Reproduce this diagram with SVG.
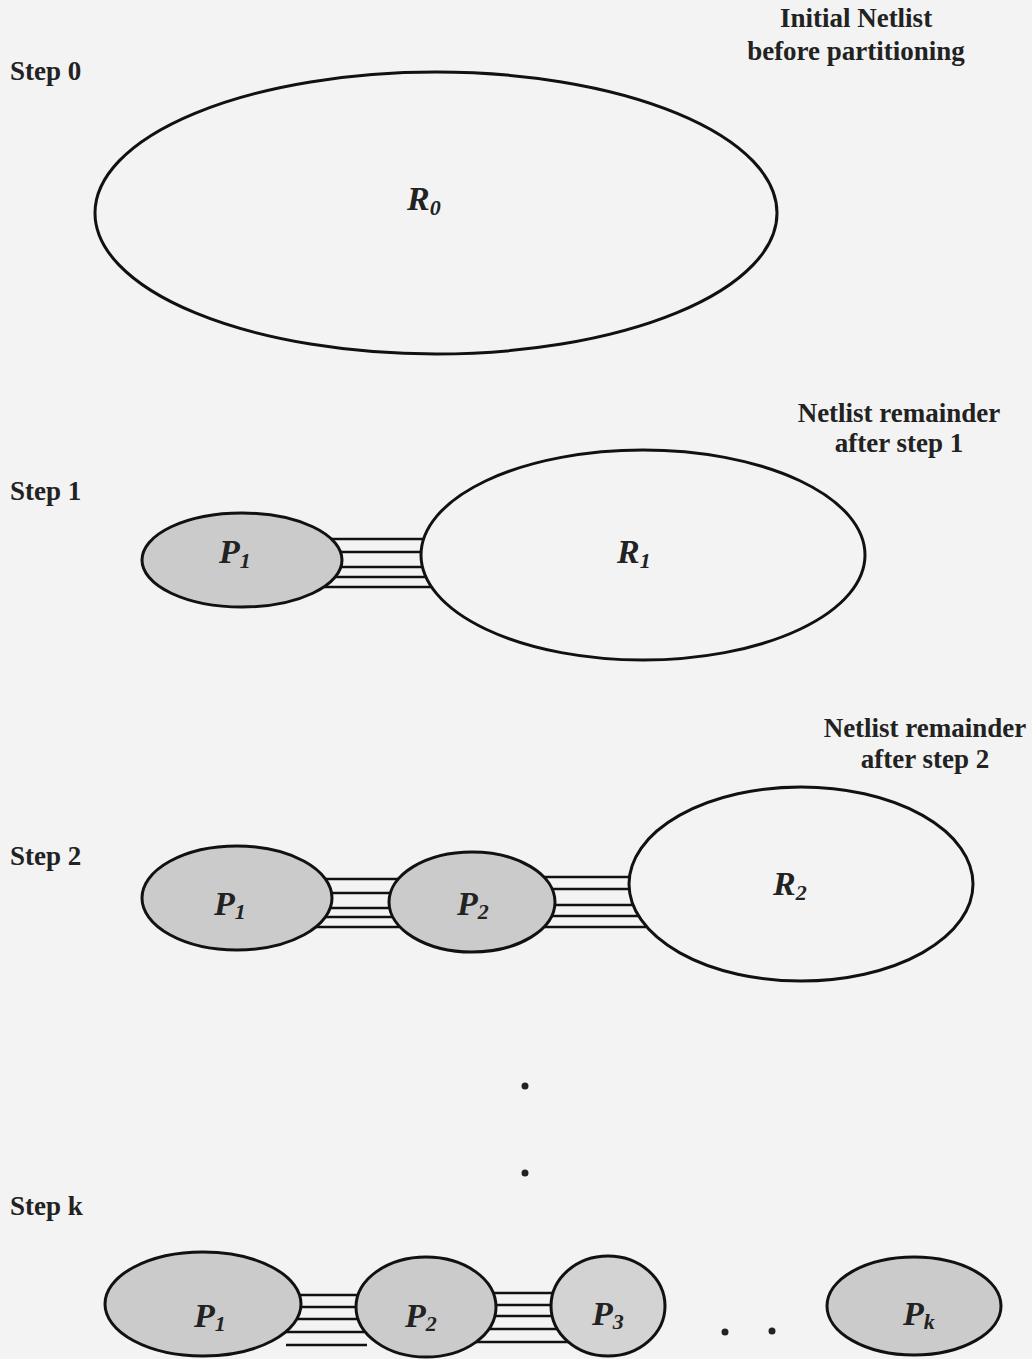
<svg xmlns="http://www.w3.org/2000/svg" width="1032" height="1359" viewBox="0 0 1032 1359">
  <style>
    .bg { fill: #f3f3f3; }
    .part { fill: #cbcbcb; stroke: #111; stroke-width: 3; }
    .rest { fill: #f3f3f3; stroke: #111; stroke-width: 3; }
    .wire { stroke: #111; stroke-width: 2.5; fill: none; }
    .cap { font-family: "Liberation Serif", "Times New Roman", serif; font-weight: bold; font-size: 27px; fill: #222; }
    .name { font-family: "Liberation Serif", "Times New Roman", serif; font-weight: bold; font-style: italic; font-size: 34px; fill: #222; }
    .sub { font-size: 22px; }
    .dot { fill: #222; }
  </style>

  <rect class="bg" x="0" y="0" width="1032" height="1359"/>

  <!-- captions -->
  <g id="captions">
    <text class="cap" x="10" y="80">Step 0</text>
    <text class="cap" x="856" y="27" text-anchor="middle">Initial Netlist</text>
    <text class="cap" x="856" y="60" text-anchor="middle">before partitioning</text>

    <text class="cap" x="10" y="500">Step 1</text>
    <text class="cap" x="899" y="422" text-anchor="middle">Netlist remainder</text>
    <text class="cap" x="899" y="452" text-anchor="middle">after step 1</text>

    <text class="cap" x="10" y="865">Step 2</text>
    <text class="cap" x="925" y="737" text-anchor="middle">Netlist remainder</text>
    <text class="cap" x="925" y="768" text-anchor="middle">after step 2</text>

    <text class="cap" x="10" y="1215">Step k</text>
  </g>

  <!-- net bundles between partitions -->
  <g id="connectors">
    <!-- step 1: P1 to R1 -->
    <line class="wire" x1="300" y1="539" x2="450" y2="539"/>
    <line class="wire" x1="300" y1="552" x2="450" y2="552"/>
    <line class="wire" x1="300" y1="567" x2="450" y2="567"/>
    <line class="wire" x1="300" y1="577" x2="450" y2="577"/>
    <line class="wire" x1="300" y1="587" x2="450" y2="587"/>
    <!-- step 2: P1 to P2 -->
    <line class="wire" x1="300" y1="879" x2="420" y2="879"/>
    <line class="wire" x1="300" y1="893" x2="420" y2="893"/>
    <line class="wire" x1="300" y1="908" x2="420" y2="908"/>
    <line class="wire" x1="300" y1="917" x2="420" y2="917"/>
    <line class="wire" x1="300" y1="927" x2="420" y2="927"/>
    <!-- step 2: P2 to R2 -->
    <line class="wire" x1="520" y1="877" x2="670" y2="877"/>
    <line class="wire" x1="520" y1="889" x2="670" y2="889"/>
    <line class="wire" x1="520" y1="905" x2="670" y2="905"/>
    <line class="wire" x1="520" y1="916" x2="670" y2="916"/>
    <line class="wire" x1="520" y1="927" x2="670" y2="927"/>
    <!-- step k: P1 to P2 -->
    <line class="wire" x1="260" y1="1295" x2="390" y2="1295"/>
    <line class="wire" x1="260" y1="1307" x2="390" y2="1307"/>
    <line class="wire" x1="260" y1="1319" x2="390" y2="1319"/>
    <line class="wire" x1="260" y1="1332" x2="390" y2="1332"/>
    <line class="wire" x1="286" y1="1345" x2="367" y2="1345"/>
    <!-- step k: P2 to P3 -->
    <line class="wire" x1="460" y1="1293" x2="580" y2="1293"/>
    <line class="wire" x1="460" y1="1305" x2="580" y2="1305"/>
    <line class="wire" x1="460" y1="1316" x2="580" y2="1316"/>
    <line class="wire" x1="460" y1="1329" x2="580" y2="1329"/>
    <line class="wire" x1="460" y1="1342" x2="580" y2="1342"/>
  </g>

  <!-- step 0 -->
  <g id="R0">
    <ellipse class="rest" cx="436" cy="213" rx="341" ry="141"/>
    <text class="name" x="407" y="210">R<tspan class="sub" dy="5">0</tspan></text>
  </g>

  <!-- step 1 -->
  <g id="step1-P1">
    <ellipse class="part" cx="242" cy="560" rx="100" ry="47"/>
    <text class="name" x="219" y="563">P<tspan class="sub" dy="5">1</tspan></text>
  </g>
  <g id="R1">
    <ellipse class="rest" cx="643" cy="555" rx="222" ry="105"/>
    <text class="name" x="617" y="563">R<tspan class="sub" dy="5">1</tspan></text>
  </g>

  <!-- step 2 -->
  <g id="step2-P1">
    <ellipse class="part" cx="237" cy="898" rx="95" ry="52"/>
    <text class="name" x="214" y="915">P<tspan class="sub" dy="4">1</tspan></text>
  </g>
  <g id="step2-P2">
    <ellipse class="part" cx="472" cy="902" rx="83" ry="50"/>
    <text class="name" x="457" y="915">P<tspan class="sub" dy="4">2</tspan></text>
  </g>
  <g id="R2">
    <ellipse class="rest" cx="801" cy="884" rx="172" ry="97"/>
    <text class="name" x="773" y="895">R<tspan class="sub" dy="5">2</tspan></text>
  </g>

  <!-- continuation marks -->
  <g id="ellipsis-vertical">
    <circle class="dot" cx="525" cy="1086" r="3.5"/>
    <circle class="dot" cx="525" cy="1173" r="3.5"/>
  </g>

  <!-- step k -->
  <g id="stepk-P1">
    <ellipse class="part" cx="203" cy="1304" rx="98" ry="52"/>
    <text class="name" x="194" y="1327">P<tspan class="sub" dy="4">1</tspan></text>
  </g>
  <g id="stepk-P2">
    <ellipse class="part" cx="426" cy="1307" rx="70" ry="50"/>
    <text class="name" x="405" y="1327">P<tspan class="sub" dy="4">2</tspan></text>
  </g>
  <g id="stepk-P3">
    <ellipse class="part" cx="608" cy="1306" rx="57" ry="50" style="fill:#d3d3d3"/>
    <text class="name" x="592" y="1325">P<tspan class="sub" dy="4">3</tspan></text>
  </g>
  <g id="ellipsis-horizontal">
    <circle class="dot" cx="725" cy="1332" r="3.5"/>
    <circle class="dot" cx="772" cy="1331" r="3.5"/>
  </g>
  <g id="stepk-Pk">
    <ellipse class="part" cx="914" cy="1306" rx="87" ry="49"/>
    <text class="name" x="903" y="1325">P<tspan class="sub" dy="4">k</tspan></text>
  </g>
</svg>
